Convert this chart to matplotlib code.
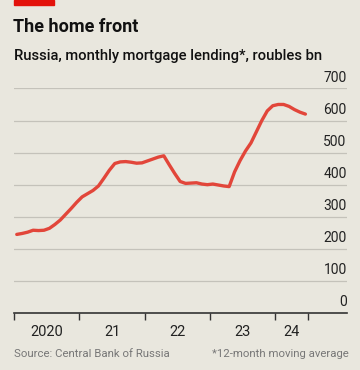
import matplotlib.pyplot as plt
import matplotlib.patches as patches
import matplotlib.transforms as mtransforms
import pandas as pd

plt.rcParams['font.family'] = ['Roboto', 'DejaVu Sans']

# --- Data: monthly mortgage lending, roubles bn (12-month moving average) ---
start_month = "2020-01"
lending = [245, 248, 252, 258, 257, 258, 264, 276, 290, 308, 326, 345,
           362, 372, 382, 396, 420, 445, 466, 471, 472, 470, 467, 468,
           474, 480, 486, 490, 462, 435, 410, 404, 405, 406, 402, 400,
           402, 399, 396, 394, 440, 475, 505, 530, 565, 600, 630, 646,
           650, 650, 644, 634, 626, 620]
y_ticks = [0, 100, 200, 300, 400, 500, 600, 700]
x_ticks = [2020, 2021, 2022, 2023, 2024, 2024.5]
year_labels = ["2020", "21", "22", "23", "24"]
year_label_pos = [2020.5, 2021.5, 2022.5, 2023.5, 2024.25]

dates = pd.date_range(start_month, periods=len(lending), freq="MS")
x = dates.year + (dates.month - 1) / 12 + 1 / 24

bg = "#e9e7de"
red = "#e2463a"

fig = plt.figure(figsize=(3.6, 3.7), dpi=100, facecolor=bg)
ax = fig.add_axes([0.039, 0.154, 0.924, 0.607])
ax.set_facecolor(bg)

# --- Header ---
fig.patches.append(patches.Rectangle((14 / 360, 1 - 5 / 370), 40 / 360, 5 / 370,
                                     transform=fig.transFigure, color="#e3120b",
                                     figure=fig))
fig.text(13 / 360, 1 - 27 / 370, "The home front", fontsize=13,
         fontweight="bold", color="#111111", va="center", ha="left")
fig.text(14 / 360, 1 - 56 / 370, "Russia, monthly mortgage lending*, roubles bn",
         fontsize=10.6, fontweight="medium", color="#111111", va="center", ha="left")

# --- Grid and labels ---
for v in y_ticks[1:]:
    ax.axhline(v, color="#c4c2ba", lw=0.9, zorder=1)
trans = mtransforms.blended_transform_factory(ax.transAxes, ax.transData)
for v in y_ticks:
    ax.text(1.0, v + 12, str(v), transform=trans, ha="right", va="bottom",
            fontsize=10, color="#222222")

ax.plot(x, lending, color=red, lw=2.4, solid_capstyle="round", zorder=3)

ax.set_xlim(2020, 2025.09)
ax.set_ylim(0, 700)
ax.set_yticks([])
ax.set_xticks(x_ticks)
ax.set_xticklabels([])
ax.tick_params(axis="x", length=5, width=1, color="#333333", direction="out")
for s in ["top", "right", "left"]:
    ax.spines[s].set_visible(False)
ax.spines["bottom"].set_color("#333333")
ax.spines["bottom"].set_linewidth(1.2)

xtrans = mtransforms.blended_transform_factory(ax.transData, fig.transFigure)
for lbl, pos in zip(year_labels, year_label_pos):
    ax.text(pos, 1 - 332 / 370, lbl, transform=xtrans, ha="center", va="center",
            fontsize=10.5, color="#222222")

fig.text(14 / 360, 1 - 354 / 370, "Source: Central Bank of Russia",
         fontsize=8.2, color="#777777", va="center", ha="left")
fig.text(212 / 360, 1 - 354 / 370, "*12-month moving average",
         fontsize=8.2, color="#777777", va="center", ha="left")

fig.savefig("out.png", dpi=100, facecolor=bg)
